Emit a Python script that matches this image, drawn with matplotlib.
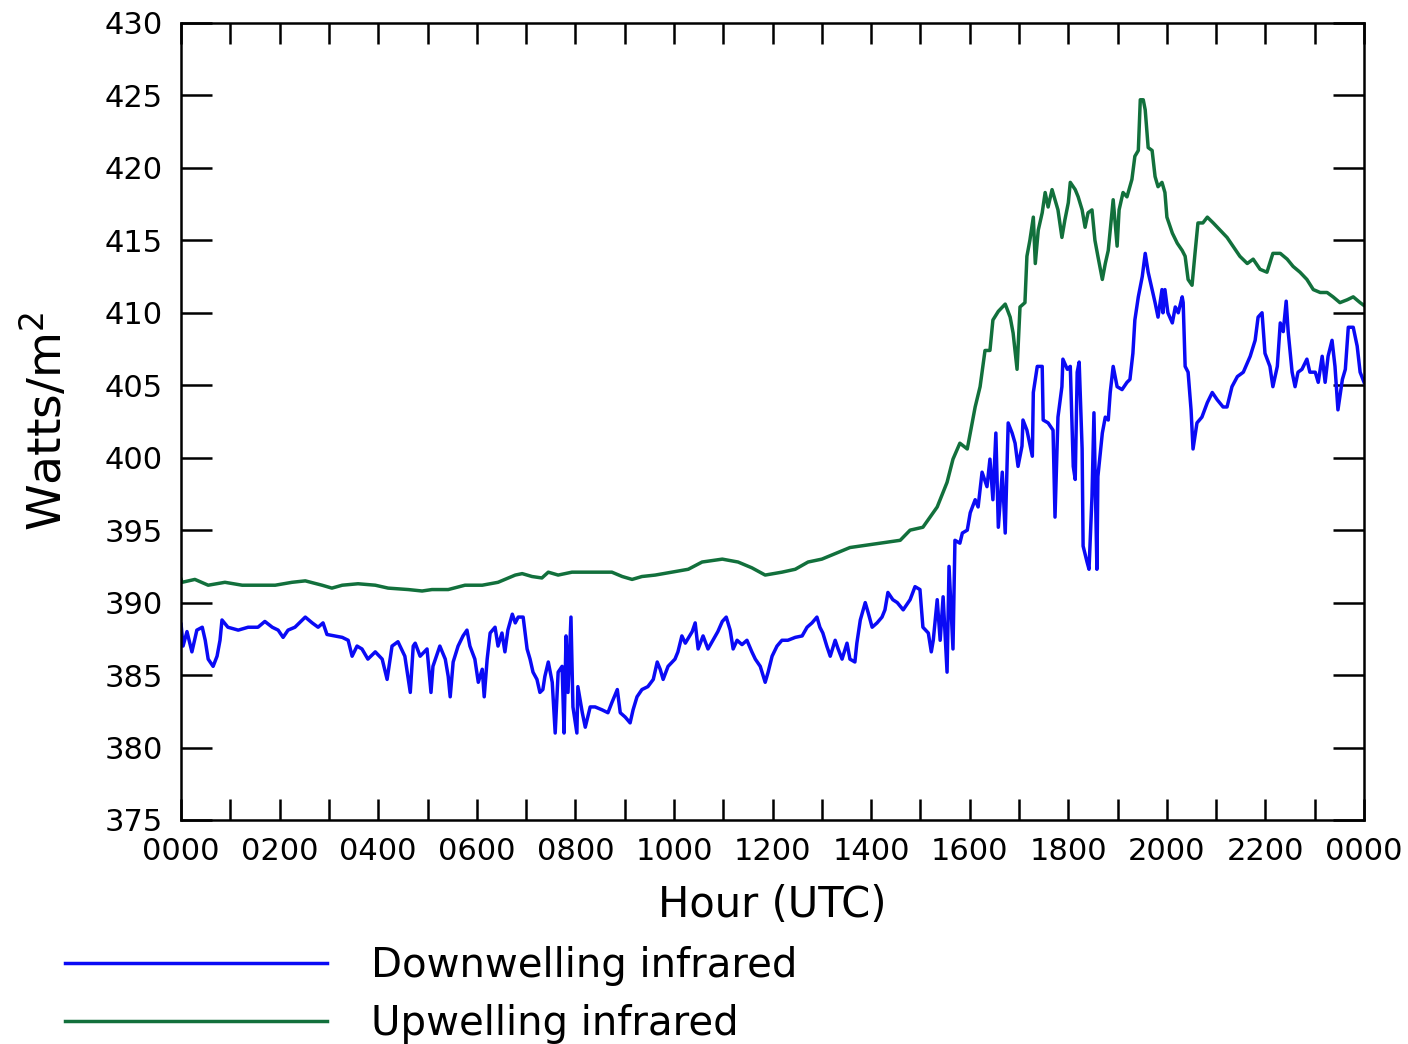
import numpy as np
import matplotlib
matplotlib.use("Agg")
import matplotlib.pyplot as plt

# hour of day (UTC) and irradiance (W/m^2)
up_hour = [0.00, 0.02, 0.28, 0.55, 0.89, 1.24, 1.56, 1.91, 2.25, 2.52, 2.86, 3.06, 3.27, 3.59, 3.94,
           4.20, 4.61, 4.89, 5.09, 5.42, 5.76, 6.11, 6.43, 6.78, 6.92, 7.12, 7.32, 7.45, 7.65, 7.93,
           8.20, 8.46, 8.74, 8.95, 9.15, 9.35, 9.62, 9.96, 10.29, 10.57, 10.98, 11.30, 11.58, 11.85,
           12.19, 12.46, 12.72, 13.00, 13.57, 14.18, 14.59, 14.79, 15.05, 15.34, 15.54, 15.66, 15.80,
           15.95, 16.01, 16.11, 16.21, 16.31, 16.41, 16.47, 16.58, 16.72, 16.82, 16.88, 16.96, 17.02,
           17.12, 17.16, 17.22, 17.29, 17.33, 17.39, 17.47, 17.53, 17.59, 17.67, 17.73, 17.79, 17.87,
           17.93, 18.00, 18.04, 18.14, 18.20, 18.28, 18.34, 18.40, 18.48, 18.54, 18.60, 18.69, 18.75,
           18.81, 18.89, 18.91, 18.99, 19.03, 19.11, 19.19, 19.29, 19.35, 19.42, 19.46, 19.52, 19.56,
           19.62, 19.70, 19.76, 19.82, 19.90, 19.96, 20.00, 20.11, 20.21, 20.31, 20.37, 20.43, 20.51,
           20.57, 20.63, 20.73, 20.82, 20.94, 21.08, 21.22, 21.34, 21.48, 21.63, 21.75, 21.89, 22.03,
           22.15, 22.30, 22.44, 22.56, 22.70, 22.84, 22.97, 23.11, 23.25, 23.37, 23.51, 23.66, 23.78,
           23.92, 24.00]
up_ir = [391.6, 391.4, 391.6, 391.2, 391.4, 391.2, 391.2, 391.2, 391.4, 391.5, 391.2, 391.0, 391.2, 391.3, 391.2,
         391.0, 390.9, 390.8, 390.9, 390.9, 391.2, 391.2, 391.4, 391.9, 392.0, 391.8, 391.7, 392.1, 391.9, 392.1,
         392.1, 392.1, 392.1, 391.8, 391.6, 391.8, 391.9, 392.1, 392.3, 392.8, 393.0, 392.8, 392.4, 391.9,
         392.1, 392.3, 392.8, 393.0, 393.8, 394.1, 394.3, 395.0, 395.2, 396.6, 398.3, 399.9, 401.0,
         400.6, 401.7, 403.5, 404.9, 407.4, 407.4, 409.5, 410.1, 410.6, 409.7, 408.6, 406.1, 410.4,
         410.7, 413.9, 415.0, 416.6, 413.4, 415.7, 416.9, 418.3, 417.3, 418.5, 417.8, 417.1, 415.2,
         416.4, 417.6, 419.0, 418.5, 418.0, 417.1, 415.9, 416.9, 417.1, 415.0, 413.9, 412.3, 413.4,
         414.3, 417.1, 417.8, 414.6, 417.1, 418.3, 418.0, 419.2, 420.8, 421.2, 424.7, 424.7, 424.0,
         421.4, 421.2, 419.4, 418.7, 419.0, 418.3, 416.6, 415.5, 414.8, 414.3, 413.9, 412.3, 411.9,
         414.1, 416.2, 416.2, 416.6, 416.2, 415.7, 415.2, 414.6, 413.9, 413.4, 413.7, 413.0, 412.8,
         414.1, 414.1, 413.7, 413.2, 412.8, 412.3, 411.6, 411.4, 411.4, 411.1, 410.7, 410.9, 411.1,
         410.7, 410.5]

down_hour = [0.00, 0.04, 0.12, 0.22, 0.32, 0.43, 0.49, 0.55, 0.65, 0.73, 0.79, 0.83, 0.95, 1.16, 1.36,
             1.56, 1.70, 1.85, 1.97, 2.07, 2.17, 2.31, 2.52, 2.66, 2.78, 2.88, 2.96, 3.12, 3.27, 3.39,
             3.47, 3.57, 3.67, 3.79, 3.94, 4.08, 4.18, 4.28, 4.40, 4.54, 4.65, 4.71, 4.75, 4.85, 4.99,
             5.07, 5.11, 5.25, 5.36, 5.42, 5.46, 5.52, 5.62, 5.72, 5.80, 5.86, 5.96, 6.03, 6.11, 6.15,
             6.21, 6.27, 6.37, 6.43, 6.51, 6.57, 6.63, 6.72, 6.78, 6.84, 6.94, 7.02, 7.08, 7.14, 7.22,
             7.28, 7.34, 7.38, 7.45, 7.53, 7.59, 7.65, 7.73, 7.77, 7.81, 7.85, 7.91, 7.95, 8.03, 8.05,
             8.14, 8.20, 8.30, 8.40, 8.54, 8.66, 8.74, 8.85, 8.91, 9.01, 9.11, 9.17, 9.25, 9.35, 9.47,
             9.58, 9.66, 9.72, 9.78, 9.88, 10.02, 10.08, 10.16, 10.23, 10.37, 10.43, 10.49, 10.59, 10.69,
             10.79, 10.89, 10.98, 11.06, 11.14, 11.20, 11.28, 11.38, 11.48, 11.58, 11.65, 11.75, 11.85,
             11.91, 11.99, 12.09, 12.19, 12.31, 12.46, 12.60, 12.70, 12.80, 12.90, 12.96, 13.02, 13.10,
             13.17, 13.27, 13.33, 13.41, 13.51, 13.57, 13.67, 13.71, 13.78, 13.88, 13.94, 14.02, 14.12,
             14.22, 14.28, 14.34, 14.44, 14.53, 14.65, 14.79, 14.89, 14.99, 15.05, 15.16, 15.22, 15.26,
             15.34, 15.40, 15.46, 15.54, 15.58, 15.66, 15.70, 15.80, 15.85, 15.95, 16.01, 16.11, 16.17,
             16.25, 16.35, 16.41, 16.47, 16.53, 16.58, 16.66, 16.72, 16.78, 16.86, 16.92, 16.98, 17.06,
             17.08, 17.16, 17.27, 17.29, 17.37, 17.47, 17.49, 17.59, 17.69, 17.73, 17.79, 17.87, 17.89,
             17.98, 18.04, 18.10, 18.14, 18.18, 18.22, 18.28, 18.30, 18.38, 18.42, 18.48, 18.52, 18.58,
             18.60, 18.69, 18.75, 18.81, 18.85, 18.91, 18.99, 19.09, 19.19, 19.25, 19.31, 19.35, 19.42,
             19.50, 19.56, 19.62, 19.70, 19.76, 19.82, 19.90, 19.92, 19.96, 20.02, 20.11, 20.17, 20.23,
             20.31, 20.33, 20.37, 20.43, 20.49, 20.53, 20.61, 20.71, 20.82, 20.92, 21.02, 21.14, 21.22,
             21.32, 21.43, 21.55, 21.69, 21.79, 21.85, 21.93, 21.99, 22.09, 22.15, 22.24, 22.30, 22.36,
             22.42, 22.46, 22.54, 22.60, 22.66, 22.74, 22.84, 22.90, 23.01, 23.07, 23.15, 23.21, 23.27,
             23.35, 23.41, 23.47, 23.56, 23.62, 23.68, 23.78, 23.86, 23.92, 24.00]
down_ir = [388.5, 387.0, 388.0, 386.6, 388.1, 388.3, 387.4, 386.1, 385.6, 386.3, 387.4, 388.8, 388.3, 388.1, 388.3,
           388.3, 388.7, 388.3, 388.1, 387.6, 388.1, 388.3, 389.0, 388.6, 388.3, 388.6, 387.8, 387.7, 387.6, 387.4,
           386.3, 387.0, 386.8, 386.1, 386.6, 386.1, 384.7, 387.0, 387.3, 386.3, 383.8, 387.0, 387.2, 386.3, 386.8,
           383.8, 385.6, 387.0, 386.1, 384.9, 383.5, 385.9, 387.0, 387.7, 388.1, 387.0, 386.1, 384.5, 385.4, 383.5,
           386.1, 387.9, 388.3, 387.0, 387.9, 386.6, 388.1, 389.2, 388.6, 389.0, 389.0, 386.8, 386.1, 385.2, 384.7,
           383.8, 384.0, 384.9, 385.9, 384.5, 381.0, 385.2, 385.6, 381.0, 387.7, 383.8, 389.0, 382.8, 381.0, 384.2,
           382.4, 381.4, 382.8, 382.8, 382.6, 382.4, 383.1, 384.0, 382.4, 382.1, 381.7, 382.6, 383.5, 384.0, 384.2,
           384.7, 385.9, 385.4, 384.7, 385.6, 386.1, 386.6, 387.7, 387.2, 388.0, 388.6, 386.8, 387.7, 386.8,
           387.4, 388.0, 388.7, 389.0, 388.1, 386.8, 387.4, 387.1, 387.4, 386.6, 386.1, 385.6, 384.5,
           385.2, 386.3, 387.0, 387.4, 387.4, 387.6, 387.7, 388.3, 388.6, 389.0, 388.3, 387.9, 387.0,
           386.3, 387.4, 386.8, 386.1, 387.2, 386.1, 385.9, 387.2, 388.8, 390.0, 389.3, 388.3, 388.6,
           389.0, 389.5, 390.7, 390.2, 390.0, 389.5, 390.2, 391.1, 390.9, 388.3, 387.9, 386.6, 387.4,
           390.2, 387.4, 390.4, 385.2, 392.5, 386.8, 394.3, 394.1, 394.8, 395.0, 396.2, 397.1, 396.6,
           399.0, 398.0, 399.9, 397.1, 401.7, 395.2, 399.0, 394.8, 402.4, 401.7, 401.0, 399.4, 400.8,
           402.6, 401.9, 400.1, 404.5, 406.3, 406.3, 402.6, 402.4, 401.9, 395.9, 402.8, 404.9, 406.8,
           406.1, 406.3, 399.4, 398.5, 405.9, 406.6, 400.6, 393.9, 392.8, 392.3, 397.3, 403.1, 392.3,
           398.7, 401.7, 402.8, 402.6, 404.5, 406.3, 404.9, 404.7, 405.2, 405.4, 407.2, 409.5, 411.1,
           412.5, 414.1, 412.8, 411.6, 410.7, 409.7, 411.6, 410.0, 411.6, 410.0, 409.3, 410.4, 410.0,
           411.1, 410.7, 406.3, 405.9, 403.3, 400.6, 402.4, 402.8, 403.8, 404.5, 404.0, 403.5, 403.5,
           404.9, 405.6, 405.9, 407.0, 408.1, 409.7, 410.0, 407.2, 406.3, 404.9, 406.3, 409.3, 408.7,
           410.8, 408.7, 405.9, 404.9, 405.9, 406.1, 406.8, 405.9, 405.9, 405.2, 407.0, 405.2, 407.0,
           408.1, 406.3, 403.3, 405.4, 406.1, 409.0, 409.0, 407.7, 405.9, 405.2]

hour_ticks = list(range(0, 25, 2))
hour_labels = ["0000", "0200", "0400", "0600", "0800", "1000", "1200",
               "1400", "1600", "1800", "2000", "2200", "0000"]

BLUE, GREEN = "#0a0af5", "#12703c"

fig = plt.figure(figsize=(14.08, 10.44), dpi=100)
ax = fig.add_axes([0.1286, 0.2146, 0.8402, 0.7634])

l1, = ax.plot(down_hour, down_ir, color=BLUE, lw=2.5)
l2, = ax.plot(up_hour, up_ir, color=GREEN, lw=2.5)

ax.set_xlim(0, 24)
ax.set_ylim(375, 430)
ax.set_yticks(np.arange(375, 431, 5))
ax.set_xticks(hour_ticks)
ax.set_xticklabels(hour_labels)
ax.set_xticks(range(1, 24, 2), minor=True)

for s in ax.spines.values():
    s.set_linewidth(1.8)
ax.tick_params(axis="both", which="both", direction="in", top=True, right=True,
               width=1.8, labelsize=22)
ax.tick_params(axis="x", which="both", length=15, pad=12)
ax.tick_params(axis="y", length=22, pad=13)

ax.set_xlabel("Hour (UTC)", fontsize=30, labelpad=13)
ax.set_ylabel("Watts/m$^{2}$", fontsize=34, labelpad=24)

fig.legend([l1, l2], ["Downwelling infrared", "Upwelling infrared"],
           loc="upper left", bbox_to_anchor=(0.046, 0.094), frameon=False,
           fontsize=29, handlelength=6.5, handletextpad=1.1, labelspacing=0.45,
           borderpad=0, borderaxespad=0)

fig.savefig("out.png", dpi=100)
